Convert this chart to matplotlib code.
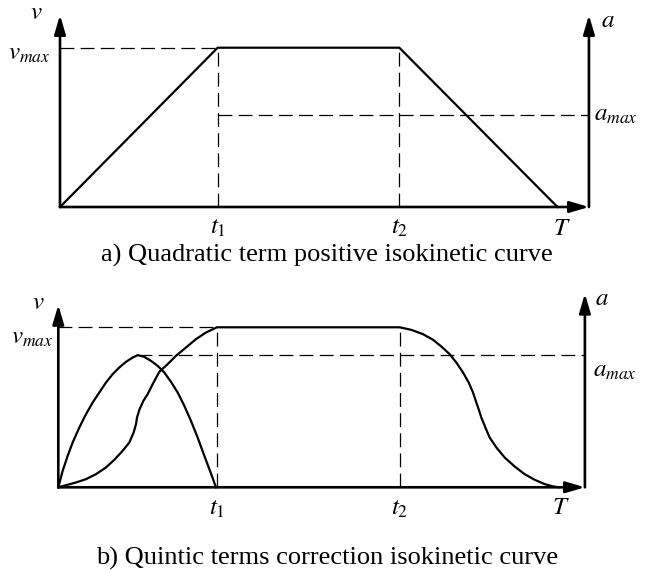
import matplotlib
matplotlib.use("Agg")
import matplotlib.pyplot as plt

plt.rcParams['mathtext.fontset'] = 'stix'
plt.rcParams['font.family'] = ['Liberation Serif', 'DejaVu Serif']
plt.rcParams['lines.scale_dashes'] = False

# time marks (shared by both panels)
t1 = 3.16
t2 = 6.8
T = 9.97
v_max = 1.0

# a) trapezoidal velocity profile
a_time = [0.0, t1, t2, T]
a_vel = [0.0, v_max, v_max, 0.0]
a_amax = 0.578

# b) quintic-corrected profile
b_acc_t = [0.0, 0.087, 0.187, 0.286, 0.419, 0.552, 0.685, 0.817, 0.950, 1.083,
           1.216, 1.349, 1.481, 1.581, 1.714, 1.847, 1.979, 2.112, 2.245, 2.378,
           2.511, 2.643, 2.776, 2.909, 3.022, 3.141]
b_acc = [0.0, 0.103, 0.197, 0.280, 0.374, 0.457, 0.530, 0.5925, 0.655, 0.707,
         0.749, 0.784, 0.811, 0.826, 0.815, 0.790, 0.759, 0.7175, 0.659, 0.5925,
         0.509, 0.415, 0.311, 0.197, 0.103, 0.0]
b_amax = 0.826

b_up_t = [0.0, 0.153, 0.353, 0.552, 0.751, 0.950, 1.116, 1.282, 1.415, 1.501,
          1.548, 1.568, 1.614, 1.694, 1.780, 1.880, 2.013, 2.179, 2.345, 2.544,
          2.743, 2.942, 3.16]
b_up_v = [0.0, 0.013, 0.030, 0.051, 0.082, 0.124, 0.172, 0.228, 0.280, 0.3425,
          0.395, 0.436, 0.484, 0.540, 0.582, 0.645, 0.722, 0.770, 0.822, 0.874,
          0.926, 0.9675, 1.0]
b_down_t = [6.8, 7.033, 7.265, 7.464, 7.630, 7.796, 7.929, 8.062, 8.175, 8.261,
            8.327, 8.374, 8.427, 8.507, 8.593, 8.726, 8.892, 9.091, 9.290, 9.489,
            9.689, 9.85, 9.97]
b_down_v = [1.0, 0.984, 0.957, 0.922, 0.880, 0.832, 0.780, 0.7175, 0.655, 0.5925,
            0.530, 0.488, 0.436, 0.374, 0.311, 0.249, 0.186, 0.130, 0.082, 0.047,
            0.020, 0.006, 0.0]

W, H = 654, 571
fig = plt.figure(figsize=(W / 100, H / 100), dpi=100)

PT = 0.72  # pixels -> points at 100 dpi
AX_LW = 1.9
CURVE_LW = 1.6
DASH = dict(color='black', lw=0.9, dashes=(10, 4.5))
FS = 18
CAP_FS = 19


def make_axes(ox, oy, sx, sy, xr, ytop):
    # axes box from the origin (pixels) to the right axis / top arrow
    ax = fig.add_axes([ox / W, (H - oy) / H, xr * sx / W, ytop * sy / H])
    ax.set_xlim(0, xr)
    ax.set_ylim(0, ytop)
    ax.axis('off')
    return ax


def arrow(ax, start, end):
    ax.annotate('', xy=end, xytext=start,
                arrowprops=dict(arrowstyle='-|>,head_length=1.15,head_width=0.34',
                                mutation_scale=10, lw=AX_LW, color='black',
                                shrinkA=0, shrinkB=0),
                annotation_clip=False)


def label(ax, s, xy, dx, dy, ha='center', size=FS):
    ax.annotate(s, xy=xy, xytext=(dx * PT, dy * PT), textcoords='offset points',
                ha=ha, va='baseline', fontsize=size, annotation_clip=False)


# ---------- panel a ----------
xr_a, ytop_a = 10.6, 1.205
ax = make_axes(60, 207, 49.9, 159.3, xr_a, ytop_a)
arrow(ax, (0, 0), (0, ytop_a))
arrow(ax, (0, 0), (xr_a, 0))
arrow(ax, (xr_a, 0), (xr_a, ytop_a))
ax.plot(a_time, a_vel, color='black', lw=CURVE_LW, clip_on=False,
        solid_joinstyle='miter')
ax.plot([0, t1], [v_max, v_max], **DASH)
ax.plot([t1, t1], [0, v_max], **DASH)
ax.plot([t2, t2], [0, v_max], **DASH)
ax.plot([t1, xr_a], [a_amax, a_amax], **DASH)

label(ax, '$v$', (0, ytop_a), -24, -4)
label(ax, '$v_{max}$', (0, v_max), -10, -12, ha='right')
label(ax, r'$t_{\mathit{1}}$', (t1, 0), 0, -27)
label(ax, '$t_2$', (t2, 0), 0, -27)
label(ax, '$T$', (T, 0), 4, -28)
label(ax, '$a$', (xr_a, ytop_a), 12, -12, ha='left')
label(ax, '$a_{max}$', (xr_a, a_amax), 5, -6, ha='left')

fig.text(327 / W, (H - 262) / H, 'a) Quadratic term positive isokinetic curve',
         ha='center', va='baseline', fontsize=CAP_FS)

# ---------- panel b ----------
xr_b, ytop_bl, ytop_br = 10.49, 1.14, 1.21
ax = make_axes(58.3, 487.3, 50.2, 160, xr_b, ytop_br)
arrow(ax, (0, 0), (0, ytop_bl))
arrow(ax, (0, 0), (xr_b, 0))
arrow(ax, (xr_b, 0), (xr_b, ytop_br))
ax.plot(b_acc_t, b_acc, color='black', lw=CURVE_LW, clip_on=False)
ax.plot(b_up_t + [t2] + b_down_t, b_up_v + [v_max] + b_down_v,
        color='black', lw=CURVE_LW, clip_on=False)
ax.plot([0, t1], [v_max, v_max], **DASH)
ax.plot([t1, t1], [0, v_max], **DASH)
ax.plot([t2, t2], [0, v_max], **DASH)
ax.plot([b_acc_t[b_acc.index(b_amax)], xr_b], [b_amax, b_amax], **DASH)

label(ax, '$v$', (0, ytop_bl), -20, -4)
label(ax, '$v_{max}$', (0, v_max), -5, -16, ha='right')
label(ax, r'$t_{\mathit{1}}$', (t1, 0), 0, -27)
label(ax, '$t_2$', (t2, 0), 0, -27)
label(ax, '$T$', (T, 0), 2, -27)
label(ax, '$a$', (xr_b, ytop_br), 10, -11, ha='left')
label(ax, '$a_{max}$', (xr_b, b_amax), 8, -22, ha='left')

fig.text(327 / W, (H - 565) / H, 'b) Quintic terms correction isokinetic curve',
         ha='center', va='baseline', fontsize=CAP_FS)

fig.savefig('out.png', dpi=100)
